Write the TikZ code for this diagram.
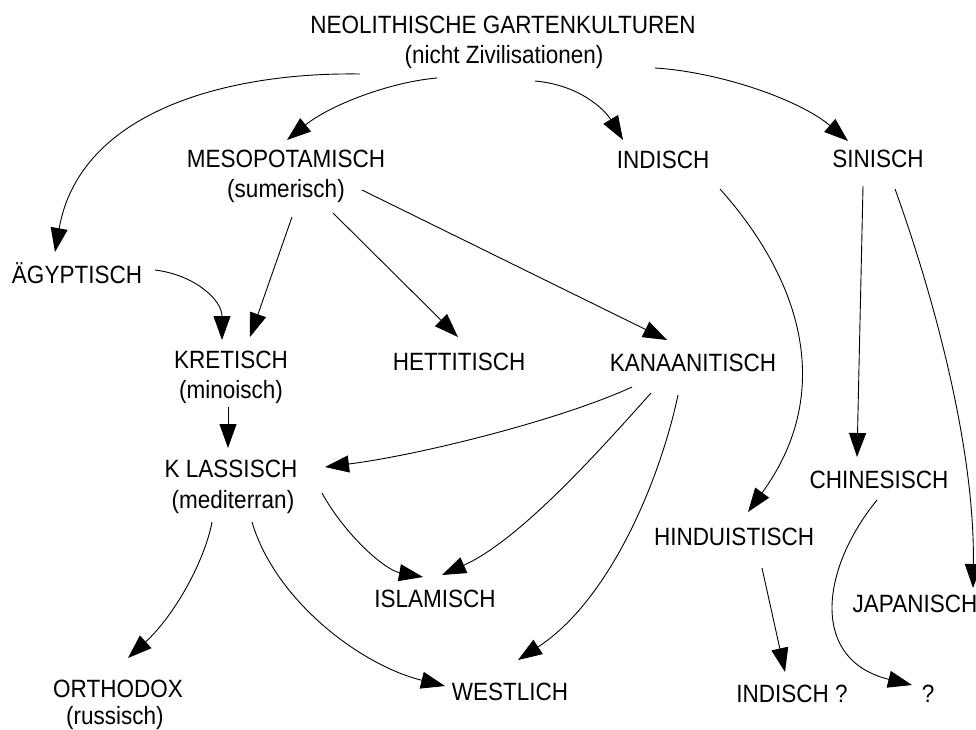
\documentclass[tikz,border=0pt]{standalone}
\usepackage{fontspec}
\setmainfont{Liberation Sans}[FakeStretch=0.9]
\usetikzlibrary{arrows.meta,calc}
\tikzset{
  kultur/.style={inner sep=0pt,anchor=base,font=\fontsize{25}{30}\selectfont},
  pfeil/.style={line width=0.9pt,-{Triangle[length=24pt,width=17pt]}}
}
\begin{document}
\begin{tikzpicture}[x=1pt,y=-1pt]
\useasboundingbox (0,0) rectangle (976,729);
% Kulturen
\node[kultur] (neo) at (503,33) {NEOLITHISCHE GARTENKULTUREN};
\node[kultur] (neob) at (504,63) {(nicht Zivilisationen)};
\node[kultur] (meso) at (286,167) {MESOPOTAMISCH};
\node[kultur] (mesob) at (286,197) {(sumerisch)};
\node[kultur] (ind) at (663,168) {INDISCH};
\node[kultur] (sin) at (878,167) {SINISCH};
\node[kultur] (aeg) at (77,283) {ÄGYPTISCH};
\node[kultur] (kret) at (231,368) {KRETISCH};
\node[kultur] (kretb) at (231,398) {(minoisch)};
\node[kultur] (hett) at (459,370) {HETTITISCH};
\node[kultur] (kan) at (693,371) {KANAANITISCH};
\node[kultur] (klass) at (231,477) {K LASSISCH};
\node[kultur] (klassb) at (233,508) {(mediterran)};
\node[kultur] (chin) at (879,488) {CHINESISCH};
\node[kultur] (hind) at (734,545) {HINDUISTISCH};
\node[kultur] (isl) at (435,607) {ISLAMISCH};
\node[kultur] (jap) at (915,612) {JAPANISCH};
\node[kultur] (orth) at (118,697) {ORTHODOX};
\node[kultur] (orthb) at (115,724) {(russisch)};
\node[kultur] (west) at (510,700) {WESTLICH};
\node[kultur] (indq) at (792,702) {INDISCH ?};
\node[kultur] (qm) at (928,702) {?};
% Pfeile
\draw[pfeil] ($(neob.base)+(-144,11)$) .. controls (230,72) and (80,110) .. ($(aeg.base)+(-22,-31)$);
\draw[pfeil] ($(neob.base)+(-67,15)$) .. controls (390,82) and (330,105) .. ($(meso.base)+(1,-27)$);
\draw[pfeil] ($(neob.base)+(31,18)$) .. controls (580,85) and (605,110) .. ($(ind.base)+(-40,-28)$);
\draw[pfeil] ($(neob.base)+(151,5)$) .. controls (720,72) and (800,100) .. ($(sin.base)+(-30,-26)$);
\draw[pfeil] ($(mesob.base)+(6,20)$) -- ($(kret.base)+(19,-31)$);
\draw[pfeil] ($(aeg.base)+(78,-13)$) .. controls (195,275) and (222,300) .. ($(kret.base)+(-9,-28)$);
\draw[pfeil] ($(mesob.base)+(47,16)$) -- ($(hett.base)+(-1,-33)$);
\draw[pfeil] ($(mesob.base)+(76,-7)$) -- ($(kan.base)+(-26,-31)$);
\draw[pfeil] ($(kretb.base)+(-3,9)$) -- ($(klass.base)+(-3,-29)$);
\draw[pfeil] ($(kan.base)+(-61,16)$) .. controls (560,420) and (420,455) .. ($(klass.base)+(94,-10)$);
\draw[pfeil] ($(kan.base)+(-42,22)$) .. controls (600,450) and (520,540) .. ($(isl.base)+(7,-32)$);
\draw[pfeil] ($(kan.base)+(-15,24)$) .. controls (660,480) and (610,600) .. ($(west.base)+(8,-40)$);
\draw[pfeil] ($(klassb.base)+(89,-15)$) .. controls (345,535) and (385,570) .. ($(isl.base)+(-12,-30)$);
\draw[pfeil] ($(klassb.base)+(19,14)$) .. controls (275,600) and (360,665) .. ($(west.base)+(-65,-14)$);
\draw[pfeil] ($(klassb.base)+(-21,14)$) .. controls (205,560) and (175,615) .. ($(orth.base)+(10,-39)$);
\draw[pfeil] ($(ind.base)+(57,21)$) .. controls (810,290) and (830,400) .. ($(hind.base)+(14,-33)$);
\draw[pfeil] ($(hind.base)+(28,23)$) -- ($(indq.base)+(-7,-30)$);
\draw[pfeil] ($(sin.base)+(-15,19)$) -- ($(chin.base)+(-22,-31)$);
\draw[pfeil] ($(sin.base)+(17,22)$) .. controls (935,300) and (975,450) .. ($(jap.base)+(58,-24)$);
\draw[pfeil] ($(chin.base)+(-2,12)$) .. controls (820,570) and (810,660) .. ($(qm.base)+(-16,-17)$);
\end{tikzpicture}
\end{document}
